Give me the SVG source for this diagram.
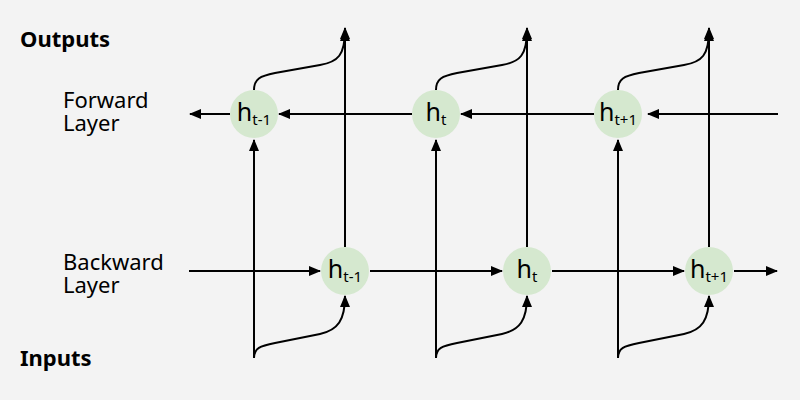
<svg xmlns="http://www.w3.org/2000/svg" width="800" height="400" viewBox="0 0 800 400">
<style>
.bg{fill:#f3f3f3}
.node{fill:#d5e8cf}
.lbl{font-family:"Noto Sans","Open Sans",sans-serif;fill:#000}
.h{font-size:25px}
.sub{font-size:15px}
.side{font-family:"Noto Sans","Open Sans",sans-serif;font-size:22px;fill:#000}
.title{font-family:"Noto Sans","Open Sans",sans-serif;font-size:22px;font-weight:bold;fill:#000}
.c{fill:none;stroke:#000;stroke-width:2}
</style>
<defs>
<marker id="ah" viewBox="0 0 12 10" refX="11" refY="5" markerWidth="12" markerHeight="10" markerUnits="userSpaceOnUse" orient="auto">
<path d="M0,0 L12,5 L0,10 z" fill="#000"/>
</marker>
</defs>
<rect class="bg" x="0" y="0" width="800" height="400"/>
<g id="labels">
<text class="title" x="20" y="47">Outputs</text>
<text class="side"><tspan x="63" y="108">Forward</tspan><tspan x="63" y="131">Layer</tspan></text>
<text class="side"><tspan x="63" y="270">Backward</tspan><tspan x="63" y="293">Layer</tspan></text>
<text class="title" x="20" y="366">Inputs</text>
</g>
<g id="connectors">
<path class="c" d="M778,114 L648,114" marker-end="url(#ah)"/>
<path class="c" d="M594,114 L461,114" marker-end="url(#ah)"/>
<path class="c" d="M412,114 L279,114" marker-end="url(#ah)"/>
<path class="c" d="M230,114 L190,114" marker-end="url(#ah)"/>
<path class="c" d="M189,271 L320,271" marker-end="url(#ah)"/>
<path class="c" d="M370,271 L502,271" marker-end="url(#ah)"/>
<path class="c" d="M552,271 L684,271" marker-end="url(#ah)"/>
<path class="c" d="M734,271 L777,271" marker-end="url(#ah)"/>
<path class="c" d="M345,247 L345,28" marker-end="url(#ah)"/>
<path class="c" d="M527,247 L527,28" marker-end="url(#ah)"/>
<path class="c" d="M709,247 L709,28" marker-end="url(#ah)"/>
<path class="c" d="M254,90 C254,79 260,76 275,73 L320,65 C338,62 345,55 345,30" marker-end="url(#ah)"/>
<path class="c" d="M436,90 C436,79 442,76 457,73 L502,65 C520,62 527,55 527,30" marker-end="url(#ah)"/>
<path class="c" d="M618,90 C618,79 624,76 639,73 L684,65 C702,62 709,55 709,30" marker-end="url(#ah)"/>
<path class="c" d="M254,358 L254,140" marker-end="url(#ah)"/>
<path class="c" d="M436,358 L436,140" marker-end="url(#ah)"/>
<path class="c" d="M618,358 L618,140" marker-end="url(#ah)"/>
<path class="c" d="M254,358 C254,348 260,346 275,343 L320,334 C338,330 345,320 345,296" marker-end="url(#ah)"/>
<path class="c" d="M436,358 C436,348 442,346 457,343 L502,334 C520,330 527,320 527,296" marker-end="url(#ah)"/>
<path class="c" d="M618,358 C618,348 624,346 639,343 L684,334 C702,330 709,320 709,296" marker-end="url(#ah)"/>
</g>
<g id="f1"><circle class="node" cx="254" cy="114" r="24"/><text class="lbl" x="254" y="121" text-anchor="middle"><tspan class="h">h</tspan><tspan class="sub" dy="4">t-1</tspan></text></g>
<g id="f2"><circle class="node" cx="436" cy="114" r="24"/><text class="lbl" x="436" y="121" text-anchor="middle"><tspan class="h">h</tspan><tspan class="sub" dy="4">t</tspan></text></g>
<g id="f3"><circle class="node" cx="618" cy="114" r="24"/><text class="lbl" x="618" y="121" text-anchor="middle"><tspan class="h">h</tspan><tspan class="sub" dy="4">t+1</tspan></text></g>
<g id="b1"><circle class="node" cx="345" cy="271" r="24"/><text class="lbl" x="345" y="278" text-anchor="middle"><tspan class="h">h</tspan><tspan class="sub" dy="4">t-1</tspan></text></g>
<g id="b2"><circle class="node" cx="527" cy="271" r="24"/><text class="lbl" x="527" y="278" text-anchor="middle"><tspan class="h">h</tspan><tspan class="sub" dy="4">t</tspan></text></g>
<g id="b3"><circle class="node" cx="709" cy="271" r="24"/><text class="lbl" x="709" y="278" text-anchor="middle"><tspan class="h">h</tspan><tspan class="sub" dy="4">t+1</tspan></text></g>
</svg>
